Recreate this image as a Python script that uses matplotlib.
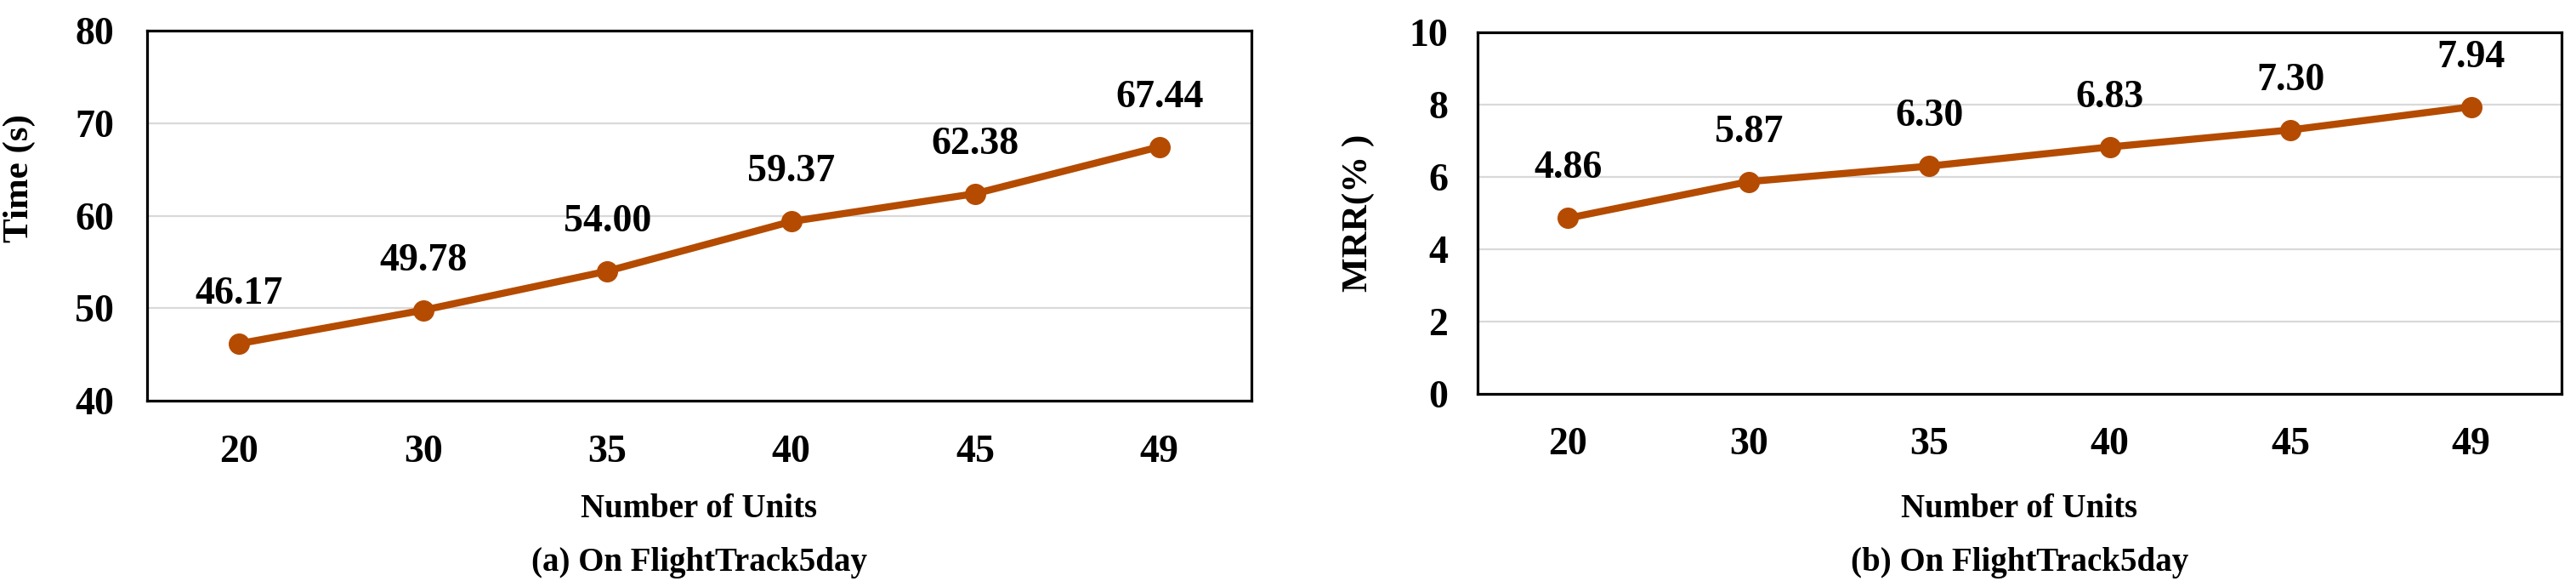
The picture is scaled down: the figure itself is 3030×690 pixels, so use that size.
import matplotlib
matplotlib.use("Agg")
import matplotlib.pyplot as plt
import numpy as np

plt.rcParams['font.family'] = ['Liberation Serif', 'DejaVu Serif']
plt.rcParams['font.weight'] = 'bold'

units = ["20", "30", "35", "40", "45", "49"]
time_s = [46.17, 49.78, 54.00, 59.37, 62.38, 67.44]
mrr = [4.86, 5.87, 6.30, 6.83, 7.30, 7.94]
time_labels = ["46.17", "49.78", "54.00", "59.37", "62.38", "67.44"]
mrr_labels = ["4.86", "5.87", "6.30", "6.83", "7.30", "7.94"]
time_yticks = [40, 50, 60, 70, 80]
mrr_yticks = [0, 2, 4, 6, 8, 10]

W, H = 3030, 690
fig = plt.figure(figsize=(W / 100, H / 100), dpi=100)

line_color = '#B44B00'

def make_ax(rect_px, yvals, labels, yticks, ylabel, ylabel_pos, ylabel_size, ypad, xpad):
    l, t, r, b = rect_px
    ax = fig.add_axes([l / W, 1 - b / H, (r - l) / W, (b - t) / H])
    x = np.arange(len(units))
    ax.plot(x, yvals, color=line_color, lw=6, marker='o', ms=17, zorder=3,
            solid_capstyle='round')
    for xi, yi, lab in zip(x, yvals, labels):
        ax.annotate(lab, (xi, yi), xytext=(0, 58), textcoords='offset pixels',
                    ha='center', va='center', fontsize=33, fontweight='bold')
    ax.set_xlim(-0.5, len(units) - 0.5)
    ax.set_ylim(yticks[0], yticks[-1])
    ax.set_yticks(yticks)
    ax.set_xticks(x)
    ax.set_xticklabels(units)
    ax.tick_params(axis='both', length=0, labelsize=33)
    ax.tick_params(axis='y', pad=ypad)
    ax.tick_params(axis='x', pad=xpad)
    for lab in ax.get_xticklabels() + ax.get_yticklabels():
        lab.set_fontweight('bold')
    ax.grid(axis='y', color='#D9D9D9', lw=1.6, zorder=0)
    ax.set_axisbelow(True)
    for sp in ax.spines.values():
        sp.set_linewidth(2.3)
        sp.set_color('black')
    ax.set_ylabel(ylabel, fontsize=ylabel_size, fontweight='bold')
    ax.yaxis.set_label_coords(*ylabel_pos)
    return ax

# left panel
lL, tL, rL, bL = 173, 36, 1472, 471
axL = make_ax((lL, tL, rL, bL), time_s, time_labels, time_yticks, "Time (s)",
              ((42 - lL) / (rL - lL), 0.60), 31, 28, 29)

# right panel
lR, tR, rR, bR = 1738, 38, 3013, 463
axR = make_ax((lR, tR, rR, bR), mrr, mrr_labels, mrr_yticks, "MRR(% )",
              ((1617 - lR) / (rR - lR), 0.5), 31, 25, 28)

# x labels and captions
for (l, r), cap in [((lL, rL), "(a) On FlightTrack5day"), ((lR, rR), "(b) On FlightTrack5day")]:
    cx = (l + r) / 2 / W
    fig.text(cx, 1 - 598 / H, "Number of Units", ha='center', va='center',
             fontsize=28, fontweight='bold')
    fig.text(cx, 1 - 662 / H, cap, ha='center', va='center',
             fontsize=28, fontweight='bold')

fig.savefig("out.png", dpi=100, facecolor='white')
